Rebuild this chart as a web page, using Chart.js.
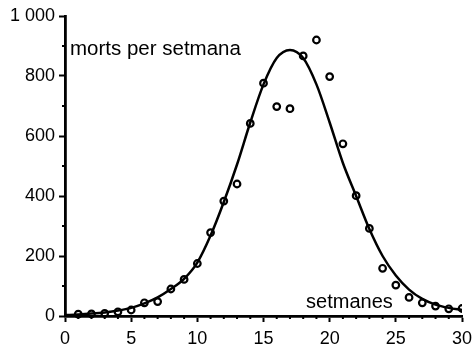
<!DOCTYPE html>
<html>
<head>
<meta charset="utf-8">
<script src="https://cdn.jsdelivr.net/npm/chart.js@4.4.0/dist/chart.umd.min.js"></script>
<style>
    html, body { margin: 0; padding: 0; background: #fff; }
</style>
</head>
<body>
<canvas id="MortsCanvas" width="473" height="347"></canvas>
<script>
// observed deaths per week
const weeks = [1, 2, 3, 4, 5, 6, 7, 8, 9, 10, 11, 12, 13, 14, 15, 16, 17, 18, 19, 20, 21, 22, 23, 24, 25, 26, 27, 28, 29, 30];
const deaths = [6, 7, 9, 14, 20, 44, 48, 90, 122, 175, 278, 383, 440, 642, 776, 698, 691, 867, 920, 798, 574, 401, 292, 159, 103, 62, 44, 33, 24, 25];

// fitted curve at each week
const curveWeeks = [0, 1, 2, 3, 4, 5, 6, 7, 8, 9, 10, 11, 12, 13, 14, 15, 16, 17, 18, 19, 20, 21, 22, 23, 24, 25, 26, 27, 28, 29, 30];
const curveDeaths = [3, 5, 8, 12, 18, 27, 42, 62, 90, 124, 178, 268, 380, 505, 645, 772, 860, 887, 860, 772, 645, 510, 400, 290, 200, 135, 88, 57, 38, 27, 20];

const yTicks = {1000: '1 000'};

Chart.defaults.font.family = '"Liberation Sans", Arial, sans-serif';
Chart.defaults.color = '#000';

//---------------------- PLUGINS

const minorTicks = {
    id: 'minorTicks',
    afterDraw(chart) {
        const ctx = chart.ctx;
        const x = chart.scales.x;
        const y = chart.scales.y;
        ctx.save();
        ctx.strokeStyle = '#000';
        ctx.lineWidth = 2;
        ctx.beginPath();
        for (let v = 1; v < 30; v++) {
            if (v % 5 === 0) continue;
            const px = x.getPixelForValue(v);
            ctx.moveTo(px, y.bottom);
            ctx.lineTo(px, y.bottom + 3);
        }
        for (let v = 100; v < 1000; v += 200) {
            const py = y.getPixelForValue(v);
            ctx.moveTo(x.left, py);
            ctx.lineTo(x.left - 3, py);
        }
        ctx.stroke();
        ctx.restore();
    }
};

const axisTexts = {
    id: 'axisTexts',
    afterDraw(chart) {
        const ctx = chart.ctx;
        const area = chart.chartArea;
        ctx.save();
        ctx.fillStyle = '#000';
        ctx.font = '20.5px "Liberation Sans", Arial, sans-serif';
        ctx.textAlign = 'left';
        ctx.textBaseline = 'alphabetic';
        ctx.fillText('morts per setmana', area.left + 5, area.top + 39);
        ctx.font = '20px "Liberation Sans", Arial, sans-serif';
        ctx.textAlign = 'right';
        ctx.fillText('setmanes', chart.scales.x.getPixelForValue(25) - 3, area.bottom - 8);
        ctx.restore();
    }
};

//---------------------- CHART

const points = weeks.map((w, i) => ({x: w, y: deaths[i]}));
const curve = curveWeeks.map((w, i) => ({x: w, y: curveDeaths[i]}));

new Chart(document.getElementById('MortsCanvas').getContext('2d'), {
    type: 'scatter',
    data: {
        datasets: [
            {
                label: 'morts',
                data: points,
                pointStyle: 'circle',
                pointRadius: 3.3,
                pointBorderWidth: 2.2,
                pointBorderColor: '#000',
                pointBackgroundColor: 'rgba(255,255,255,0)',
                clip: {left: 6, top: 6, right: 0, bottom: 6}
            },
            {
                label: 'ajust',
                type: 'line',
                data: curve,
                borderColor: '#000',
                borderWidth: 2.5,
                pointRadius: 0,
                cubicInterpolationMode: 'monotone',
                fill: false
            }
        ]
    },
    options: {
        responsive: false,
        animation: false,
        layout: {padding: {top: 16, right: 11, left: 0, bottom: 0}},
        plugins: {
            legend: {display: false},
            tooltip: {enabled: false}
        },
        scales: {
            x: {
                type: 'linear',
                min: 0,
                max: 30,
                border: {display: true, color: '#000', width: 2.8},
                grid: {drawOnChartArea: false, tickLength: 6, tickWidth: 2, tickColor: '#000'},
                ticks: {stepSize: 5, padding: 6, font: {size: 18}, maxRotation: 0},
                afterFit: scale => {
                    scale.height = 31;
                    scale.paddingLeft = 0;
                    scale.paddingRight = 0;
                }
            },
            y: {
                type: 'linear',
                min: 0,
                max: 1000,
                border: {display: true, color: '#000', width: 2.8},
                grid: {drawOnChartArea: false, tickLength: 6, tickWidth: 2, tickColor: '#000'},
                ticks: {
                    stepSize: 200,
                    padding: 4,
                    font: {size: 18},
                    callback: v => yTicks[v] || v
                },
                afterFit: scale => {
                    scale.width = 65;
                    scale.paddingTop = 0;
                    scale.paddingBottom = 0;
                }
            }
        }
    },
    plugins: [minorTicks, axisTexts]
});
</script>
</body>
</html>
